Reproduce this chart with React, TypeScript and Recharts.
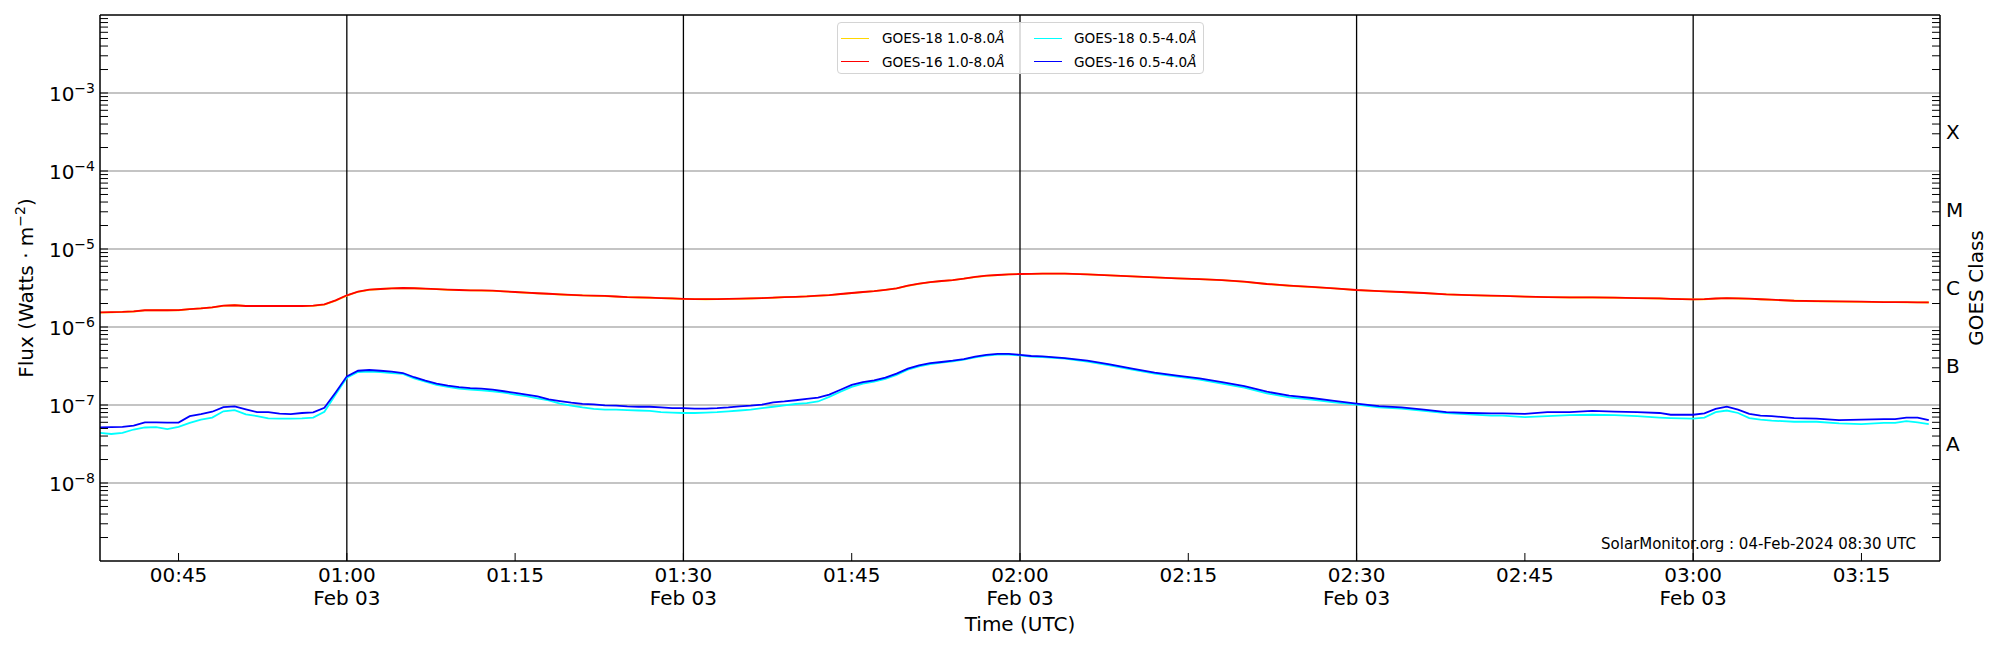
import React from 'react';
import {CartesianGrid, Label, Legend, Line, LineChart, ReferenceLine, XAxis, YAxis} from 'recharts';

const FONT = '"DejaVu Sans", sans-serif';
const PLOT_LEFT = 100;
const PLOT_RIGHT = 1940;
const PLOT_BOTTOM = 561;

// sample times, minutes after 00:00 UTC on Feb 03
const minutes = [
  38, 39, 40, 41, 42, 43, 44, 45, 46, 47,
  48, 49, 50, 51, 52, 53, 54, 55, 56, 57,
  58, 59, 60, 61, 62, 63, 64, 65, 66, 67,
  68, 69, 70, 71, 72, 73, 74, 75, 76, 77,
  78, 79, 80, 81, 82, 83, 84, 85, 86, 87,
  88, 89, 90, 91, 92, 93, 94, 95, 96, 97,
  98, 99, 100, 101, 102, 103, 104, 105, 106, 107,
  108, 109, 110, 111, 112, 113, 114, 115, 116, 117,
  118, 119, 120, 121,
  122, 124, 126, 128, 130, 132, 134, 136, 138, 140, 142, 144, 146, 148, 150, 152, 154, 156, 158, 160, 162, 163,
  165, 167, 169, 171, 173, 175, 177, 178, 180, 181, 182, 183, 184, 185, 186, 187, 189, 191, 193, 195, 197, 198, 199, 200, 201,
];

// 1.0-8.0 A channels, in units of 1e-6 W/m^2
const goes18Long = [
  1.53, 1.54, 1.56, 1.58, 1.63, 1.65, 1.64, 1.64, 1.69, 1.73,
  1.78, 1.87, 1.90, 1.87, 1.85, 1.86, 1.85, 1.86, 1.86, 1.87,
  1.94, 2.18, 2.53, 2.83, 3.00, 3.07, 3.12, 3.15, 3.14, 3.09,
  3.05, 3.00, 2.97, 2.95, 2.93, 2.91, 2.86, 2.80, 2.75, 2.70,
  2.66, 2.61, 2.57, 2.54, 2.51, 2.49, 2.45, 2.42, 2.39, 2.37,
  2.34, 2.32, 2.30, 2.28, 2.27, 2.28, 2.29, 2.30, 2.32, 2.35,
  2.37, 2.41, 2.44, 2.47, 2.51, 2.57, 2.64, 2.72, 2.80, 2.88,
  2.99, 3.12, 3.37, 3.58, 3.76, 3.88, 3.99, 4.16, 4.36, 4.53,
  4.63, 4.72, 4.77, 4.80,
  4.82, 4.82, 4.72, 4.58, 4.45, 4.32, 4.20, 4.11, 3.99, 3.80, 3.56, 3.38, 3.25, 3.12, 2.97, 2.88, 2.80, 2.72, 2.62, 2.56, 2.51, 2.50,
  2.45, 2.41, 2.39, 2.39, 2.37, 2.35, 2.32, 2.30, 2.26, 2.27, 2.31, 2.34, 2.32, 2.30, 2.27, 2.23, 2.17, 2.14, 2.12, 2.10, 2.08, 2.08, 2.07, 2.07, 2.06,
];
const goes16Long = [
  1.54, 1.55, 1.56, 1.59, 1.64, 1.65, 1.64, 1.65, 1.70, 1.73,
  1.79, 1.88, 1.90, 1.86, 1.86, 1.86, 1.86, 1.86, 1.86, 1.88,
  1.95, 2.20, 2.55, 2.84, 3.01, 3.07, 3.13, 3.16, 3.14, 3.10,
  3.05, 3.01, 2.98, 2.95, 2.94, 2.92, 2.87, 2.81, 2.76, 2.71,
  2.67, 2.62, 2.58, 2.54, 2.52, 2.50, 2.46, 2.42, 2.40, 2.38,
  2.35, 2.33, 2.30, 2.28, 2.28, 2.28, 2.29, 2.31, 2.33, 2.35,
  2.38, 2.42, 2.44, 2.47, 2.52, 2.57, 2.65, 2.73, 2.81, 2.89,
  3.00, 3.13, 3.39, 3.59, 3.77, 3.89, 4.00, 4.17, 4.38, 4.55,
  4.64, 4.73, 4.78, 4.80,
  4.83, 4.83, 4.73, 4.59, 4.46, 4.33, 4.21, 4.12, 4.00, 3.81, 3.56, 3.39, 3.26, 3.13, 2.98, 2.89, 2.81, 2.73, 2.62, 2.57, 2.52, 2.50,
  2.45, 2.42, 2.40, 2.40, 2.38, 2.35, 2.33, 2.30, 2.26, 2.28, 2.32, 2.35, 2.33, 2.31, 2.27, 2.24, 2.17, 2.15, 2.13, 2.11, 2.09, 2.09, 2.08, 2.07, 2.07,
];

// 0.5-4.0 A channels, in units of 1e-7 W/m^2
const goes18Short = [
  0.438, 0.425, 0.438, 0.485, 0.515, 0.52, 0.49, 0.525, 0.59, 0.65,
  0.69, 0.83, 0.86, 0.76, 0.72, 0.675, 0.67, 0.67, 0.675, 0.69,
  0.82, 1.36, 2.24, 2.65, 2.68, 2.65, 2.57, 2.50, 2.20, 2.00,
  1.81, 1.71, 1.62, 1.57, 1.54, 1.50, 1.44, 1.36, 1.30, 1.22,
  1.15, 1.04, 0.98, 0.93, 0.89, 0.87, 0.87, 0.86, 0.85, 0.84,
  0.81, 0.80, 0.79, 0.79, 0.80, 0.81, 0.83, 0.85, 0.87, 0.91,
  0.95, 0.99, 1.03, 1.06, 1.11, 1.27, 1.48, 1.71, 1.88, 2.00,
  2.16, 2.43, 2.84, 3.13, 3.35, 3.49, 3.63, 3.81, 4.08, 4.29,
  4.42, 4.42, 4.32, 4.16,
  4.12, 3.92, 3.59, 3.22, 2.84, 2.52, 2.32, 2.11, 1.88, 1.67, 1.41, 1.25, 1.17, 1.08, 1.01, 0.93, 0.90, 0.84, 0.79, 0.76, 0.73, 0.73,
  0.70, 0.72, 0.74, 0.75, 0.74, 0.72, 0.69, 0.68, 0.67, 0.69, 0.81, 0.85, 0.79, 0.68, 0.65, 0.63, 0.61, 0.61, 0.58, 0.57, 0.59, 0.59, 0.62, 0.60, 0.57,
];
const goes16Short = [
  0.518, 0.52, 0.525, 0.545, 0.60, 0.60, 0.595, 0.595, 0.72, 0.765,
  0.82, 0.94, 0.96, 0.88, 0.81, 0.81, 0.774, 0.766, 0.79, 0.805,
  0.92, 1.45, 2.33, 2.75, 2.81, 2.75, 2.68, 2.57, 2.27, 2.05,
  1.88, 1.77, 1.70, 1.65, 1.62, 1.57, 1.50, 1.43, 1.36, 1.29,
  1.18, 1.12, 1.07, 1.035, 1.02, 0.99, 0.98, 0.96, 0.95, 0.95,
  0.93, 0.91, 0.91, 0.90, 0.90, 0.91, 0.93, 0.96, 0.98, 1.01,
  1.08, 1.11, 1.15, 1.20, 1.24, 1.36, 1.57, 1.81, 1.96, 2.07,
  2.24, 2.52, 2.92, 3.22, 3.45, 3.56, 3.70, 3.88, 4.16, 4.38,
  4.51, 4.51, 4.40, 4.25,
  4.21, 4.00, 3.70, 3.32, 2.92, 2.60, 2.38, 2.20, 1.96, 1.74, 1.48, 1.32, 1.23, 1.13, 1.04, 0.97, 0.93, 0.87, 0.81, 0.79, 0.78, 0.78,
  0.77, 0.81, 0.81, 0.84, 0.82, 0.81, 0.79, 0.75, 0.75, 0.78, 0.89, 0.95, 0.87, 0.77, 0.73, 0.72, 0.68, 0.67, 0.64, 0.65, 0.66, 0.66, 0.69, 0.69, 0.64,
];

const seriesKeys = ['g18l', 'g16l', 'g18s', 'g16s'];
const seriesNames = ['GOES-18 1.0-8.0Å', 'GOES-16 1.0-8.0Å', 'GOES-18 0.5-4.0Å', 'GOES-16 0.5-4.0Å'];
const seriesColors = ['#ffd700', '#ff0000', '#00ffff', '#0000ff'];

const timeTicks = [45, 60, 75, 90, 105, 120, 135, 150, 165, 180, 195];
const timeTickLabels = ['00:45', '01:00', '01:15', '01:30', '01:45', '02:00', '02:15', '02:30', '02:45', '03:00', '03:15'];
const halfHourMarks = [60, 90, 120, 150, 180];
const dateLabel = 'Feb 03';

const decadeTicks = [1e-8, 1e-7, 1e-6, 1e-5, 1e-4, 1e-3];
const decadeExponents = ['−8', '−7', '−6', '−5', '−4', '−3'];
const classLevels = [3.16e-8, 3.16e-7, 3.16e-6, 3.16e-5, 3.16e-4];
const classLetters = ['A', 'B', 'C', 'M', 'X'];
const Y_DOMAIN = [1e-9, 1e-2];

const minorTicks: number[] = [];
[1e-9, 1e-8, 1e-7, 1e-6, 1e-5, 1e-4, 1e-3].forEach(d => {
  [2, 3, 4, 5, 6, 7, 8, 9].forEach(k => minorTicks.push(d * k));
});

const rows = minutes.map((t, i) => ({
  t,
  g18l: goes18Long[i] * 1e-6,
  g16l: goes16Long[i] * 1e-6,
  g18s: goes18Short[i] * 1e-7,
  g16s: goes16Short[i] * 1e-7,
}));

const FluxTick = (props: any) => {
  const {y, payload} = props;
  const idx = decadeTicks.indexOf(payload.value);
  return (
    <g>
      <line x1={PLOT_LEFT} x2={PLOT_LEFT + 8} y1={y} y2={y} stroke="#000" strokeWidth={1}/>
      {idx >= 0 && (
        <text x={95} y={y + 7.5} textAnchor="end" fontSize={20} fill="#000" fontFamily={FONT}>
          10<tspan dy={-8} fontSize={14}>{decadeExponents[idx]}</tspan>
        </text>
      )}
    </g>
  );
};

const ClassTick = (props: any) => {
  const {y, payload} = props;
  const idx = classLevels.indexOf(payload.value);
  if (idx >= 0) {
    return <text x={PLOT_RIGHT + 6} y={y + 7.3} fontSize={20} fill="#000" fontFamily={FONT}>{classLetters[idx]}</text>;
  }
  return <line x1={PLOT_RIGHT - 8} x2={PLOT_RIGHT} y1={y} y2={y} stroke="#000" strokeWidth={1}/>;
};

const TimeTick = (props: any) => {
  const {x, payload} = props;
  const idx = timeTicks.indexOf(payload.value);
  return (
    <g>
      <line x1={x} x2={x} y1={PLOT_BOTTOM} y2={PLOT_BOTTOM - 8} stroke="#000" strokeWidth={1}/>
      <text x={x} y={582} textAnchor="middle" fontSize={20} fill="#000" fontFamily={FONT}>{timeTickLabels[idx]}</text>
      {halfHourMarks.includes(payload.value) && (
        <text x={x} y={605} textAnchor="middle" fontSize={20} fill="#000" fontFamily={FONT}>{dateLabel}</text>
      )}
    </g>
  );
};

const renderLegend = () => (
  <div style={{
    position: 'relative', width: 367, height: 52, boxSizing: 'border-box',
    border: '1px solid #d4d4d4', borderRadius: 4, background: 'rgba(255,255,255,0.8)',
    fontFamily: FONT, fontSize: 13.6, color: '#000',
  }}>
    {seriesNames.map((name, i) => {
      const col = Math.floor(i / 2);
      const row = i % 2;
      return (
        <div key={name} style={{
          position: 'absolute', left: col ? 196 : 3, top: row ? 29 : 5.5, height: 19,
          display: 'flex', alignItems: 'center', whiteSpace: 'nowrap',
        }}>
          <span style={{display: 'inline-block', width: 28, borderTop: `1.5px solid ${seriesColors[i]}`, marginRight: col ? 12 : 13}}/>
          <span>{name.slice(0, -1)}<i>{name.slice(-1)}</i></span>
        </div>
      );
    })}
  </div>
);

export default function App() {
  return (
    <div style={{position: 'absolute', left: 0, top: 0, width: 2000, height: 650, background: '#fff'}}>
      <LineChart width={2000} height={650} data={rows} margin={{top: 15, right: 0, bottom: 0, left: 20}} style={{fontFamily: FONT}}>
        <CartesianGrid xAxisId="bottom" yAxisId="left" vertical={false} horizontalValues={decadeTicks} stroke="#b0b0b0" strokeWidth={1.3}/>
        <XAxis xAxisId="bottom" dataKey="t" type="number" domain={[38, 202]} allowDataOverflow ticks={timeTicks} interval={0}
               height={89} tick={TimeTick} tickLine={false} axisLine={{stroke: '#000', strokeWidth: 1.5}}>
          <Label content={() => (
            <text x={1020} y={631} textAnchor="middle" fontSize={20} fill="#000" fontFamily={FONT}>Time (UTC)</text>
          )}/>
        </XAxis>
        <YAxis yAxisId="left" type="number" scale="log" domain={Y_DOMAIN} allowDataOverflow width={80}
               ticks={[...decadeTicks, ...minorTicks]} interval={0} tick={FluxTick} tickLine={false}
               axisLine={{stroke: '#000', strokeWidth: 1.5}}>
          <Label content={() => (
            <text x={33} y={288} transform="rotate(-90 33 288)" textAnchor="middle" fontSize={20} fill="#000" fontFamily={FONT}>
              Flux (Watts · m<tspan dy={-8} fontSize={14}>−2</tspan><tspan dy={8}>)</tspan>
            </text>
          )}/>
        </YAxis>
        <YAxis yAxisId="right" orientation="right" type="number" scale="log" domain={Y_DOMAIN} allowDataOverflow width={60}
               ticks={[...minorTicks, ...classLevels]} interval={0} tick={ClassTick} tickLine={false}
               axisLine={{stroke: '#000', strokeWidth: 1.5}}>
          <Label content={() => (
            <g>
              <text x={1983} y={288} transform="rotate(-90 1983 288)" textAnchor="middle" fontSize={20} fill="#000" fontFamily={FONT}>GOES Class</text>
              <text x={1916} y={548.5} textAnchor="end" fontSize={15} fill="#000" fontFamily={FONT}>SolarMonitor.org : 04-Feb-2024 08:30 UTC</text>
            </g>
          )}/>
        </YAxis>
        {/* top frame of the axes box */}
        <ReferenceLine xAxisId="bottom" yAxisId="left" y={Y_DOMAIN[1]} stroke="#000" strokeWidth={1.5}/>
        {halfHourMarks.map(m => (
          <ReferenceLine key={m} xAxisId="bottom" yAxisId="left" x={m} stroke="#000" strokeWidth={1.3}/>
        ))}
        {seriesKeys.map((k, i) => (
          <Line key={k} xAxisId="bottom" yAxisId="left" type="linear" dataKey={k} name={seriesNames[i]}
                stroke={seriesColors[i]} strokeWidth={1.8} dot={false} activeDot={false} isAnimationActive={false}/>
        ))}
        <Legend layout="horizontal" verticalAlign="middle" align="center" content={renderLegend}
                wrapperStyle={{left: 837, top: 22, width: 367, height: 52}}/>
      </LineChart>
    </div>
  );
}
